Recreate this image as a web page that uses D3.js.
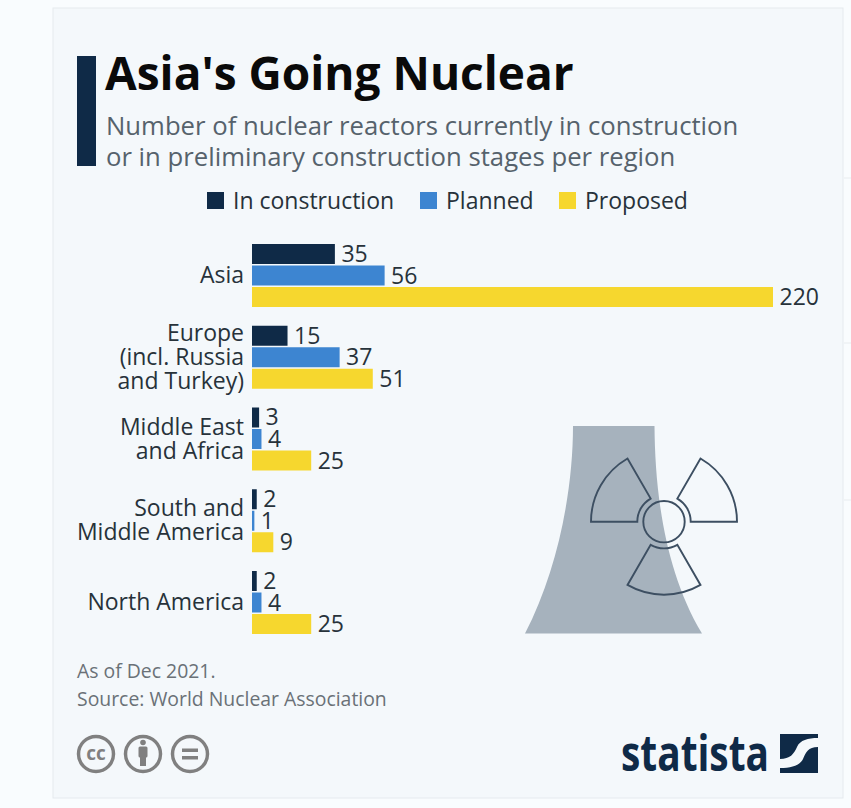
<!DOCTYPE html>
<html><head><meta charset="utf-8">
<script src="https://cdn.jsdelivr.net/npm/d3@7"></script>
<style>html,body{margin:0;padding:0;background:#f9fcfe;overflow:hidden}svg{display:block}text{font-family:"Open Sans",sans-serif}</style>
</head><body><svg id="c" width="851" height="808"></svg>
<script>
const categories = [["Asia"],["Europe","(incl. Russia","and Turkey)"],["Middle East","and Africa"],["South and","Middle America"],["North America"]];
const categoryKeys = ["Asia","Europe","MEA","SMA","NA"];
const seriesNames = ["In construction","Planned","Proposed"];
const seriesColors = ["#0f2a47","#3d85d1","#f6d72e"];
const inConstruction = [35,15,3,2,2];
const planned = [56,37,4,1,4];
const proposed = [220,51,25,9,25];
const seriesValues = [inConstruction,planned,proposed];

const svg = d3.select("#c");
// card
svg.append("rect").attr("x",53).attr("y",8).attr("width",790).attr("height",790).attr("fill","#f4f8fb").attr("stroke","#e6eaee").attr("stroke-width",1);
[178,343,500].forEach(y=>svg.append("line").attr("x1",844).attr("x2",851).attr("y1",y).attr("y2",y).attr("stroke","#e8ecef"));

// header
svg.append("rect").attr("x",77).attr("y",56).attr("width",19).attr("height",110).attr("fill","#0f2a47");
svg.append("text").attr("x",105).attr("y",90).attr("font-size",46).attr("font-weight",700).attr("fill","#0a0a0a").text("Asia's Going Nuclear");
svg.append("text").attr("x",106).attr("y",135).attr("font-size",25.7).attr("fill","#56626c").text("Number of nuclear reactors currently in construction");
svg.append("text").attr("x",106).attr("y",166).attr("font-size",25.7).attr("fill","#56626c").text("or in preliminary construction stages per region");

// legend
const legendX = [207,420,559];
seriesNames.forEach((n,i)=>{
  svg.append("rect").attr("x",legendX[i]).attr("y",192).attr("width",17).attr("height",17).attr("fill",seriesColors[i]);
  svg.append("text").attr("x",legendX[i]+26).attr("y",209).attr("font-size",23).attr("fill","#27323a").text(n);
});

// icon
const g = svg.append("g");
const tower = d3.path();
tower.moveTo(573,426); tower.lineTo(654.5,426);
tower.bezierCurveTo(655,490,664,570,702,633.5);
tower.lineTo(525,633.5);
tower.bezierCurveTo(558,570,573,490,573,426);
tower.closePath();
g.append("path").attr("d",tower.toString()).attr("fill","#a6b2bd");
const ic = g.append("g").attr("transform","translate(664,521.7)");
const deg = Math.PI/180;
const arc = d3.arc().innerRadius(26.7).outerRadius(73);
[[-90,-30],[30,90],[150,210]].forEach(a=>{
  ic.append("path").attr("d",arc({startAngle:a[0]*deg,endAngle:a[1]*deg})).attr("fill","none").attr("stroke","#3d4f62").attr("stroke-width",1.9);
});
ic.append("circle").attr("r",20.7).attr("fill","none").attr("stroke","#3d4f62").attr("stroke-width",1.9);

// scales
const x = d3.scaleLinear().domain([0,220]).range([252,773]);
const y0 = d3.scalePoint().domain(categoryKeys).range([244,571]);
const y1 = d3.scaleBand().domain(seriesNames).range([0,63]).paddingInner(0.07);

// bars
seriesNames.forEach((n,s)=>{
  const gs = svg.append("g");
  gs.selectAll("rect").data(seriesValues[s]).join("rect")
    .attr("x",x(0)).attr("y",(d,i)=>y0(categoryKeys[i])+y1(n))
    .attr("width",d=>x(d)-x(0)).attr("height",y1.bandwidth()).attr("fill",seriesColors[s]);
  gs.selectAll("text").data(seriesValues[s]).join("text")
    .attr("x",d=>x(d)+6.5).attr("y",(d,i)=>y0(categoryKeys[i])+y1(n)+y1.bandwidth()/2+8)
    .attr("font-size",23).attr("fill","#27323a").text(d=>d);
});

// category labels
categories.forEach((lines,i)=>{
  const cy = y0(categoryKeys[i])+31;
  const t = svg.append("text").attr("text-anchor","end").attr("font-size",23).attr("fill","#27323a");
  lines.forEach((l,j)=>t.append("tspan").attr("x",244).attr("y",cy+8+(j-(lines.length-1)/2)*24).text(l));
});

// footer
svg.append("text").attr("x",77).attr("y",678).attr("font-size",19.4).attr("fill","#6a7177").text("As of Dec 2021.");
svg.append("text").attr("x",77).attr("y",706).attr("font-size",19.4).attr("fill","#6a7177").text("Source: World Nuclear Association");

// cc icons
const cc = svg.append("g");
[96,143,190].forEach(cx=>cc.append("circle").attr("cx",cx).attr("cy",754).attr("r",17.5).attr("fill","none").attr("stroke","#808080").attr("stroke-width",3.5));
cc.append("text").attr("x",96).attr("y",760).attr("text-anchor","middle").attr("font-size",19).attr("font-weight",700).attr("fill","#808080").text("cc");
cc.append("circle").attr("cx",143).attr("cy",742.5).attr("r",2.8).attr("fill","#808080");
cc.append("rect").attr("x",138.5).attr("y",746.5).attr("width",9).attr("height",11).attr("rx",1.5).attr("fill","#808080");
cc.append("rect").attr("x",140).attr("y",755).attr("width",6).attr("height",11).attr("fill","#808080");
cc.append("rect").attr("x",182).attr("y",748.5).attr("width",16).attr("height",3.5).attr("fill","#808080");
cc.append("rect").attr("x",182).attr("y",756).attr("width",16).attr("height",3.5).attr("fill","#808080");

// logo
svg.append("text").attr("x",621).attr("y",771).attr("font-size",50).attr("font-weight",700).attr("fill","#0f2a47").attr("textLength",148).attr("lengthAdjust","spacingAndGlyphs").text("statista");
const logo = svg.append("g").attr("transform","translate(780,734)");
logo.append("rect").attr("width",38).attr("height",39).attr("fill","#0f2a47");
logo.append("path").attr("d","M0,25 C10,25 14,20 17,13 C20,6 28,4 38,4 L38,13 C28,13 26,18 23,25 C20,31 12,34 0,34 Z").attr("fill","#f4f8fb");
</script></body></html>
